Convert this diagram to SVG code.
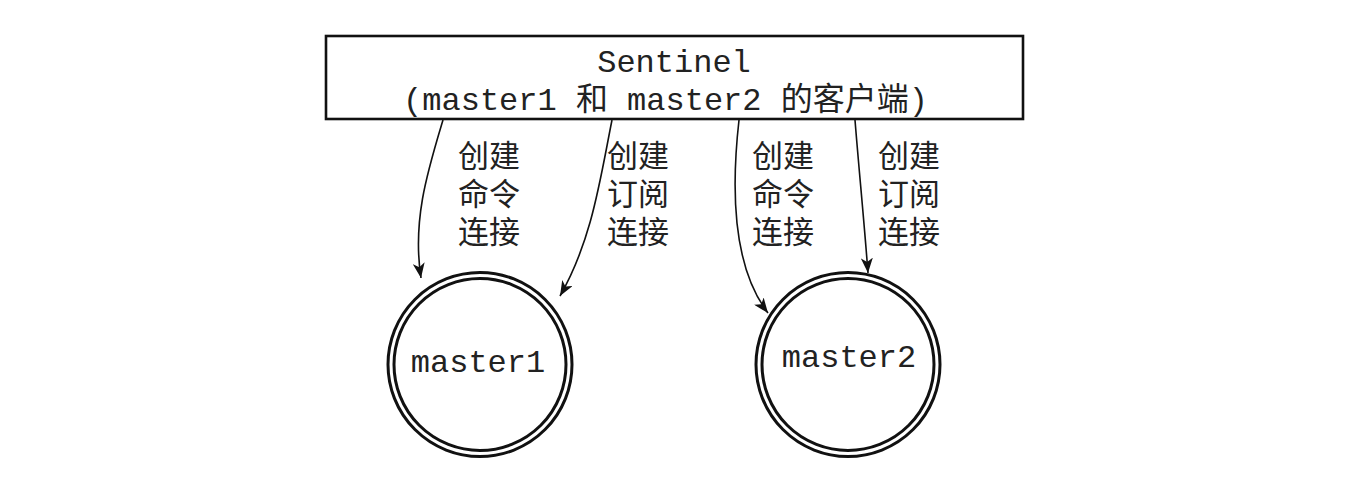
<svg xmlns="http://www.w3.org/2000/svg" width="1369" height="487" viewBox="0 0 1369 487">
<style>
.box{fill:#fff;stroke:#111;stroke-width:2.6}
.ring{fill:none;stroke:#111;stroke-width:3}
.mono{font-family:"Liberation Mono","Noto Sans CJK SC",monospace;font-size:32px;fill:#222}
.cjk{font-family:"Noto Sans CJK SC","Noto Sans",sans-serif;font-size:31px;fill:#222}
.conn{fill:none;stroke:#111;stroke-width:1.6}
</style>
<defs>
<marker id="arr" markerUnits="userSpaceOnUse" markerWidth="16" markerHeight="12" refX="15" refY="6" orient="auto">
<path d="M0,0 L15,6 L0,12 L4,6 z" fill="#111"/>
</marker>
</defs>
<rect width="1369" height="487" fill="#fff"/>
<g id="sentinel">
<rect class="box" x="326" y="36" width="697" height="83"/>
<text class="mono" x="674" y="72" text-anchor="middle">Sentinel</text>
<text class="mono" x="665.5" y="110" text-anchor="middle">(master1 和 master2 的客户端)</text>
</g>
<g id="master1">
<circle class="ring" cx="480" cy="364.5" r="92"/>
<circle class="ring" cx="480" cy="364.5" r="86"/>
<text class="mono" x="478" y="372" text-anchor="middle">master1</text>
</g>
<g id="master2">
<circle class="ring" cx="848" cy="364.5" r="92"/>
<circle class="ring" cx="848" cy="364.5" r="86"/>
<text class="mono" x="849" y="367" text-anchor="middle">master2</text>
</g>
<g id="connectors">
<path class="conn" d="M443,120 C428,170 412,220 421,278" marker-end="url(#arr)"/>
<path class="conn" d="M612,120 C600,180 592,240 560,296" marker-end="url(#arr)"/>
<path class="conn" d="M739,120 C730,200 735,270 768,313" marker-end="url(#arr)"/>
<path class="conn" d="M855,120 C859,170 864,220 868,273" marker-end="url(#arr)"/>
</g>
<g id="labels">
<text class="cjk" x="458" y="167">创建</text>
<text class="cjk" x="458" y="205">命令</text>
<text class="cjk" x="458" y="243">连接</text>
<text class="cjk" x="607" y="167">创建</text>
<text class="cjk" x="607" y="205">订阅</text>
<text class="cjk" x="607" y="243">连接</text>
<text class="cjk" x="752" y="167">创建</text>
<text class="cjk" x="752" y="205">命令</text>
<text class="cjk" x="752" y="243">连接</text>
<text class="cjk" x="878" y="167">创建</text>
<text class="cjk" x="878" y="205">订阅</text>
<text class="cjk" x="878" y="243">连接</text>
</g>
</svg>
